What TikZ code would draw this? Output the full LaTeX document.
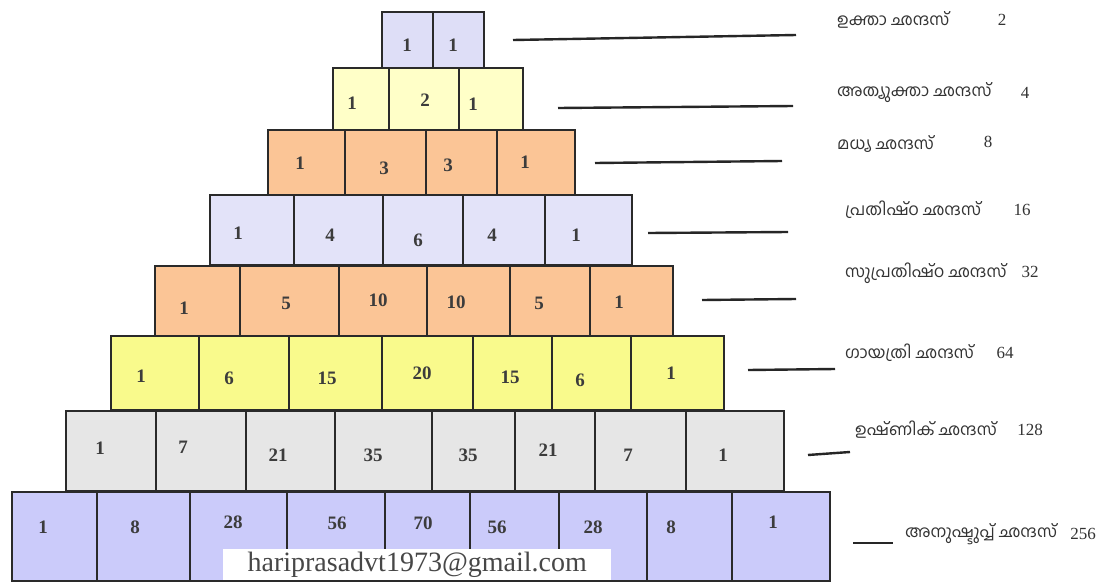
\documentclass[tikz,border=0pt]{standalone}
\usepackage{fontspec}
\setmainfont{Liberation Serif}
\newfontfamily\mal[Script=Malayalam]{Hind Kochi}
\definecolor{boxline}{HTML}{2A2A2A}
\definecolor{numgray}{HTML}{3C3C3C}
\definecolor{cA}{HTML}{DEDEF7}
\definecolor{cB}{HTML}{FFFFC8}
\definecolor{cC}{HTML}{FBC596}
\definecolor{cD}{HTML}{E3E3F9}
\definecolor{cE}{HTML}{F9FA8C}
\definecolor{cF}{HTML}{E6E6E6}
\definecolor{cG}{HTML}{CBCBFA}
\newcommand\pyrrow[4]{\foreach \a/\b in {#4}{\path[cell,fill=#1] (\a,#2) rectangle (\b,#3);}}
\newcommand\pyrnums[2]{\foreach \x/\y/\t [count=\i] in {#2}{\node[num] (r#1n\i) at (\x,\y) {\t};}}
\begin{document}
\begin{tikzpicture}[x=1pt,y=-1pt,
  cell/.style={draw=boxline, line width=2.2pt, line join=miter},
  num/.style={font=\fontsize{19}{19}\selectfont\bfseries, text=numgray, inner sep=0pt},
  conn/.style={draw=black!85, line width=2.4pt},
  lbl/.style={anchor=west, font=\mal\fontsize{16.5}{16.5}\selectfont, text=black!80, inner sep=0pt},
  cnt/.style={font=\fontsize{17}{17}\selectfont, text=black!80, inner sep=0pt}]
\useasboundingbox (0,0) rectangle (1104,584);
\fill[white] (0,0) rectangle (1104,584);
% rows
\pyrrow{cA}{12}{68}{382/433,433/484}
\pyrrow{cB}{68}{130}{333/389,389/459,459/523}
\pyrrow{cC}{130}{195}{268/345,345/426,426/497,497/575}
\pyrrow{cD}{195}{265}{210/294,294/383,383/463,463/545,545/632}
\pyrrow{cC}{266}{336}{155/240,240/339,339/427,427/510,510/590,590/673}
\pyrrow{cE}{336}{410}{111/199,199/289,289/382,382/473,473/552,552/631,631/724}
\pyrrow{cF}{411}{491}{66/156,156/246,246/335,335/432,432/515,515/595,595/686,686/784}
\pyrrow{cG}{492}{581}{12/97,97/190,190/287,287/385,385/470,470/559,559/647,647/732,732/830}
% numbers
\pyrnums{1}{407/45/1,453/45/1}
\pyrnums{2}{352/103/1,425/100/2,473/104/1}
\pyrnums{3}{300/163/1,384/168/3,448/165/3,525/162/1}
\pyrnums{4}{238/233/1,330/235/4,418/240/6,492/235/4,576/235/1}
\pyrnums{5}{184/308/1,286/303/5,378/300/10,456/302/10,539/303/5,619/302/1}
\pyrnums{6}{141/376/1,229/378/6,327/378/15,422/373/20,510/377/15,580/380/6,671/373/1}
\pyrnums{7}{100/448/1,183/447/7,278/455/21,373/455/35,468/455/35,548/450/21,628/455/7,723/455/1}
\pyrnums{8}{43/527/1,135/527/8,233/522/28,337/523/56,423/523/70,497/527/56,593/527/28,671/527/8,773/522/1}
% email
\node[fill=white, inner sep=0pt, minimum width=388pt, minimum height=31pt, anchor=north west,
  font=\fontsize{28}{28}\selectfont, text=black!72] (mail) at (223,549) {hariprasadvt1973@gmail.com};
% connectors
\coordinate (s1) at (513,40);  \coordinate (e1) at (796,35);
\coordinate (s2) at (558,108); \coordinate (e2) at (793,106);
\coordinate (s3) at (595,163); \coordinate (e3) at (782,161);
\coordinate (s4) at (648,233); \coordinate (e4) at (788,232);
\coordinate (s5) at (702,300); \coordinate (e5) at (796,299);
\coordinate (s6) at (748,370); \coordinate (e6) at (835,369);
\coordinate (s7) at (808,455); \coordinate (e7) at (850,452);
\coordinate (s8) at (853,543); \coordinate (e8) at (893,543);
\foreach \i in {1,...,8}{\draw[conn] (s\i) -- (e\i);}
% labels
\node[lbl] (m1) at (837,20)  {ഉക്താ ഛന്ദസ്};
\node[cnt] (k1) at (1002,20) {2};
\node[lbl] (m2) at (837,93)  {അത്യുക്താ ഛന്ദസ്};
\node[cnt] (k2) at (1025,93) {4};
\node[lbl] (m3) at (837,144) {മധ്യ ഛന്ദസ്};
\node[cnt] (k3) at (988,142) {8};
\node[lbl] (m4) at (845,210) {പ്രതിഷ്ഠ ഛന്ദസ്};
\node[cnt] (k4) at (1022,210) {16};
\node[lbl] (m5) at (845,273) {സുപ്രതിഷ്ഠ ഛന്ദസ്};
\node[cnt] (k5) at (1030,272) {32};
\node[lbl] (m6) at (845,353) {ഗായത്രി ഛന്ദസ്};
\node[cnt] (k6) at (1005,353) {64};
\node[lbl] (m7) at (855,430) {ഉഷ്ണിക് ഛന്ദസ്};
\node[cnt] (k7) at (1030,430) {128};
\node[lbl] (m8) at (905,534) {അനുഷ്ടുപ്പ് ഛന്ദസ്};
\node[cnt] (k8) at (1083,534) {256};
\end{tikzpicture}
\end{document}
